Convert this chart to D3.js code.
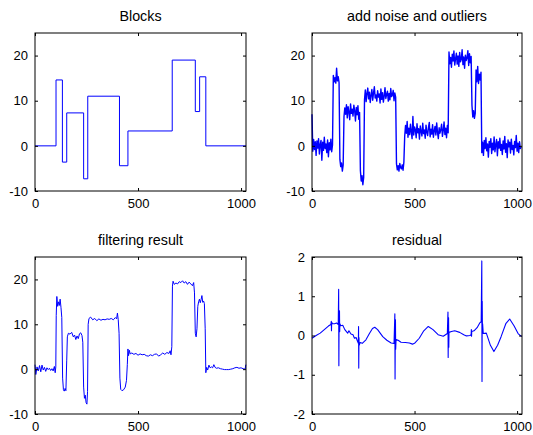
<!DOCTYPE html>
<html><head><meta charset="utf-8">
<script src="https://cdn.jsdelivr.net/npm/d3@7"></script>
<style>body{margin:0;background:#fff}svg{display:block}text{font-family:Arial,"Liberation Sans",Helvetica,sans-serif}</style>
</head><body><svg id="c" width="533" height="435"></svg>
<script>
// ---------- data ----------
const titles = ["Blocks", "add noise and outliers", "filtering result", "residual"];
const xTicks = [0, 500, 1000];
const yTicksSignal = [-10, 0, 10, 20];
const yTicksResidual = [-2, -1, 0, 1, 2];

// Blocks: step levels starting at each breakpoint
const blockBreaks = [0, 102, 133, 154, 236, 256, 410, 451, 666, 778, 799, 829, 1024];
const blockLevels = [0, 14.6, -3.6, 7.3, -7.3, 11, -4.4, 3.3, 19, 7.6, 15.3, 0, 0];

// Noisy signal, one value every 4 samples (x = 0,4,8,...,1020)
const noisyStep = 4;
const noisyValues = [
 7.0,-1.2,1.4,-0.8,0.9,-2.1,1.1,-0.5,1.6,-1.8,
 0.3,1.2,-3.2,0.8,-1.0,1.9,-0.6,0.4,-1.5,1.3,
 -2.4,0.7,-0.9,1.5,-1.3,0.2,
 15.6,14.2,15.1,13.9,17.2,14.4,15.3,14.0,
 -3.0,-4.6,-3.8,-5.6,-4.2,
 6.5,8.4,7.0,9.1,6.2,8.7,7.5,5.8,9.3,7.2,
 8.1,6.6,9.0,7.8,5.5,8.5,6.9,8.9,5.9,7.4,
 -5.5,-7.8,-6.6,-8.6,-7.0,
 10.2,12.4,9.8,11.6,12.8,10.4,11.9,9.6,11.2,12.5,
 10.1,11.7,13.1,10.6,11.3,9.9,12.2,10.8,11.5,9.5,
 12.6,10.3,11.8,9.7,11.0,12.9,10.5,11.4,12.1,9.9,
 11.6,10.2,12.7,10.9,11.3,12.3,10.0,11.7,10.8,
 -4.0,-5.3,-4.4,-5.6,-3.9,-4.8,-5.1,-4.2,-5.4,-3.6,
 2.1,4.5,2.8,5.4,1.9,3.9,2.5,4.8,3.1,1.6,
 6.5,2.4,4.2,3.6,1.8,4.9,2.9,3.8,1.5,4.4,
 3.2,2.2,5.0,2.7,3.5,1.7,4.6,3.0,2.3,4.1,
 5.2,2.0,3.7,2.6,4.7,1.9,3.3,4.3,2.4,5.1,
 3.0,1.6,4.0,2.8,3.6,4.8,2.1,3.4,5.3,2.5,
 3.9,1.8,4.5,2.9,
 20.8,18.2,19.6,17.4,20.3,18.8,21.0,17.9,19.3,20.5,
 18.1,19.9,17.6,20.7,18.6,19.2,21.3,18.0,19.7,17.2,
 20.1,18.9,19.5,21.1,17.8,20.4,18.4,19.8,
 9.0,6.4,7.8,6.1,7.2,
 16.8,14.2,17.6,13.8,15.9,14.6,16.3,
 -1.5,0.8,-2.1,1.2,-0.6,1.8,-1.1,0.4,-2.5,1.0,
 -0.3,1.6,-1.7,0.6,-0.9,2.0,-1.3,0.2,1.4,-2.2,
 0.9,-0.5,1.7,-1.0,0.3,-1.9,1.1,-0.7,2.1,-1.4,
 0.5,-2.6,1.3,-0.2,0.8,-1.6,1.5,-0.8,0.1,-2.0,
 1.0,-0.4,2.3,-1.2,0.6,-1.5,0.9,-0.6,-0.2
];

// Filtered result
const filtX = [0,4,10,16,22,28,34,40,46,52,58,64,70,76,82,88,94,98,101,103,106,110,114,118,122,126,130,134,138,142,146,150,154,157,162,170,178,186,192,198,204,210,216,222,228,232,236,240,244,248,252,255,258,262,270,280,290,300,310,320,330,340,350,360,370,380,390,396,400,404,408,412,416,422,430,438,444,448,451,454,458,462,470,480,490,500,510,520,530,540,550,560,570,580,590,600,610,620,630,640,650,656,660,664,667,670,676,684,692,700,708,716,724,732,740,748,756,764,770,774,778,782,786,790,794,798,802,806,810,814,818,822,826,829,833,838,844,850,856,862,868,874,880,890,900,910,920,930,940,950,960,970,980,990,1000,1010,1020,1023];
const filtY = [1.0,-1.2,0.5,-0.4,0.8,-0.6,0.9,-0.2,0.4,-0.5,0.3,-0.1,0.2,-0.3,0.1,-0.4,0.6,-0.8,0.5,12,16.2,14.0,15.0,14.2,15.6,13.8,11.5,-2,-4.6,-4.9,-4.3,-4.8,2,7.2,8.0,7.8,8.2,7.2,7.6,6.6,7.4,6.8,7.9,8.1,7.5,6.0,-4,-6.5,-5.8,-7.5,-7.8,-5,10,11.3,11.6,11.0,11.3,10.8,11.2,10.9,11.1,11.0,11.2,11.1,11.3,11.0,11.5,11.2,12.5,11.0,8,-2,-4.5,-4.8,-4.6,-4.0,-2.5,1,4.5,3.0,4.2,3.4,3.6,3.3,3.5,3.1,3.4,3.2,3.3,3.0,2.9,3.2,3.0,3.3,3.4,2.9,3.2,3.6,3.3,3.7,3.5,4.1,3.2,5,18.5,19.6,18.9,19.2,19.0,19.5,19.3,19.7,19.2,19.5,18.9,19.4,19.0,18.6,19.3,17,8,7.2,9,14,15.0,15.6,14.8,15.5,16.4,14.9,15.2,14.6,9,-0.8,0.4,-0.2,0.9,0.3,0.5,0.3,1.0,0.4,0.2,0.3,0.1,0.0,-0.1,-0.1,-0.1,0.0,0.1,0.3,0.4,0.2,0.3,0.1,0.0,1.0];

// Residual
const resX = [0,20,40,60,80,92,94,95,96,100,110,120,128,130,131,132,134,135,136,140,150,160,174,180,190,200,207,215,222,226,227,228,229,230,235,245,263,280,295,306,320,345,365,386,400,404,405,406,407,408,410,420,434,455,475,490,502,523,545,567,590,615,640,660,663,664,665,666,667,668,680,696,720,740,753,770,776,777,778,779,790,805,818,825,828,829,830,831,832,835,850,870,887,905,922,945,964,985,1005,1022];
const resY = [-0.07,0.0,0.06,0.15,0.24,0.28,0.36,0.12,0.34,0.30,0.30,0.32,0.28,1.18,-0.77,0.35,0.63,0.10,0.30,0.25,0.26,0.15,0.06,0.12,0.04,0.02,-0.07,-0.05,-0.15,-0.2,0.23,-0.83,-0.05,-0.25,-0.18,-0.2,-0.11,0.05,0.18,0.21,0.15,-0.03,-0.12,-0.19,-0.2,0.55,-1.11,-0.05,0.40,-0.35,-0.1,-0.12,-0.17,-0.18,-0.19,-0.22,-0.19,-0.07,0.12,0.23,0.15,0.02,-0.02,0.05,0.6,-0.56,0.10,0.45,-0.3,0.08,0.1,0.12,0.08,0.02,-0.01,0.0,0.02,0.15,-0.02,0.10,0.12,0.2,0.32,0.35,1.9,-1.17,0.87,0.1,0.3,0.05,0.06,-0.25,-0.41,-0.25,-0.03,0.3,0.42,0.25,0.05,-0.03];

// ---------- drawing ----------
const svg = d3.select("#c");
const panels = [
  {x0:35, x1:246, y0:33, y1:191, yd:[-10,25], yt:yTicksSignal, kind:"step", sw:1},
  {x0:312, x1:522, y0:33, y1:191, yd:[-10,25], yt:yTicksSignal, kind:"noisy", sw:1.4},
  {x0:35, x1:246, y0:257, y1:414, yd:[-10,25], yt:yTicksSignal, kind:"filt", sw:1},
  {x0:312, x1:522, y0:257, y1:414, yd:[-2,2], yt:yTicksResidual, kind:"res", sw:1.1}
];
const fmt = d => String(d);

panels.forEach((p, i) => {
  const x = d3.scaleLinear().domain([0, 1024]).range([p.x0, p.x1]);
  const y = d3.scaleLinear().domain(p.yd).range([p.y1, p.y0]);
  const g = svg.append("g");

  let pts;
  if (p.kind === "step") pts = blockBreaks.map((b, k) => [b, blockLevels[k]]);
  else if (p.kind === "noisy") pts = noisyValues.map((v, k) => [k * noisyStep, v]);
  else if (p.kind === "filt") pts = filtX.map((v, k) => [v, filtY[k]]);
  else pts = resX.map((v, k) => [v, resY[k]]);

  const line = d3.line().x(d => x(d[0])).y(d => y(d[1]));
  if (p.kind === "step") line.curve(d3.curveStepAfter);

  g.append("path").datum(pts).attr("d", line)
    .attr("fill", "none").attr("stroke", "#0000ff").attr("stroke-width", p.sw)
    .attr("stroke-linejoin", "round");

  const fs = 13;
  g.append("g").attr("transform", `translate(0,${p.y1})`)
    .call(d3.axisBottom(x).tickValues(xTicks).tickFormat(fmt).tickSizeInner(-3).tickSizeOuter(0).tickPadding(8))
    .call(a => a.select(".domain").remove());
  g.append("g").attr("transform", `translate(0,${p.y0})`)
    .call(d3.axisTop(x).tickValues(xTicks).tickSizeInner(-3).tickSizeOuter(0).tickFormat(""))
    .call(a => a.select(".domain").remove());
  g.append("g").attr("transform", `translate(${p.x0},0)`)
    .call(d3.axisLeft(y).tickValues(p.yt).tickFormat(fmt).tickSizeInner(-3).tickSizeOuter(0).tickPadding(7))
    .call(a => a.select(".domain").remove());
  g.append("g").attr("transform", `translate(${p.x1},0)`)
    .call(d3.axisRight(y).tickValues(p.yt).tickSizeInner(-3).tickSizeOuter(0).tickFormat(""))
    .call(a => a.select(".domain").remove());
  g.selectAll(".tick text").attr("font-size", fs).attr("fill", "#000")
    .style("font-family", "Arial, 'Liberation Sans', sans-serif");
  g.selectAll(".tick line").attr("stroke", "#000");

  g.append("rect").attr("x", p.x0).attr("y", p.y0)
    .attr("width", p.x1 - p.x0).attr("height", p.y1 - p.y0)
    .attr("fill", "none").attr("stroke", "#000").attr("stroke-width", 1);

  g.append("text").attr("x", (p.x0 + p.x1) / 2).attr("y", p.y0 - 12)
    .attr("text-anchor", "middle").attr("font-size", 14.3).attr("fill", "#000").text(titles[i]);
});
</script></body></html>
